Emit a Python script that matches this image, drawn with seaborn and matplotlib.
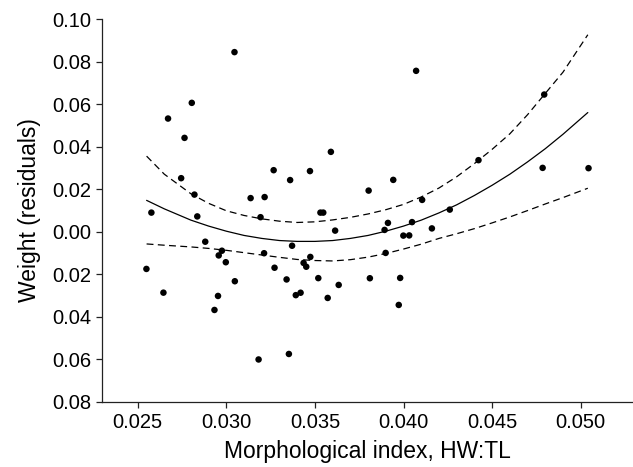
import matplotlib
matplotlib.use("Agg")
import matplotlib.pyplot as plt
import seaborn as sns
import pandas as pd

# morphological index (HW:TL) and weight residuals
hw_tl = [0.02549, 0.02577, 0.02645, 0.02671, 0.02745, 0.02764, 0.02805, 0.02820,
         0.02836, 0.02881, 0.02933, 0.02953, 0.02957, 0.02975, 0.02997, 0.03046,
         0.03048, 0.03137, 0.03182, 0.03193, 0.03213, 0.03216, 0.03267, 0.03272,
         0.03340, 0.03353, 0.03360, 0.03371, 0.03392, 0.03419, 0.03436, 0.03451,
         0.03472, 0.03474, 0.03519, 0.03531, 0.03547, 0.03590, 0.03614, 0.03634,
         0.03572, 0.03803, 0.03810, 0.03893, 0.03899, 0.03912, 0.03942, 0.03973,
         0.03981, 0.03999, 0.04032, 0.04048, 0.04071, 0.04105, 0.04160, 0.04261,
         0.04423, 0.04785, 0.04794, 0.05044]
weight_resid = [-0.01755, 0.00894, -0.02871, 0.05318, 0.02513, 0.04409, 0.06056, 0.01741,
                0.00715, -0.00475, -0.03685, -0.03026, -0.01120, -0.00899, -0.01440, 0.08442,
                -0.02334, 0.01576, -0.06014, 0.00678, -0.01016, 0.01624, 0.02889, -0.01699,
                -0.02250, -0.05755, 0.02424, -0.00664, -0.02988, -0.02875, -0.01473, -0.01652,
                0.02847, -0.01191, -0.02188, 0.00894, 0.00894, 0.03751, 0.00047, -0.02508,
                -0.03120, 0.01929, -0.02193, 0.00080, -0.01002, 0.00409, 0.02433, -0.03449,
                -0.02179, -0.00188, -0.00179, 0.00447, 0.07562, 0.01492, 0.00151, 0.01035,
                0.03360, 0.02998, 0.06447, 0.02984]

# fitted curve and its confidence limits, read at these x positions
fit_x = [0.0255, 0.0265, 0.0280, 0.0290, 0.0300, 0.0310, 0.0320, 0.0330, 0.0340,
         0.0350, 0.0360, 0.0370, 0.0380, 0.0390, 0.0400, 0.0410, 0.0420, 0.0430,
         0.0440, 0.0450, 0.0460, 0.0470, 0.0480, 0.0490, 0.0504]
fit_mid = [0.0147, 0.0107, 0.0054, 0.0026, 0.0002, -0.0018, -0.0032, -0.0042, -0.0046,
           -0.0046, -0.0042, -0.0032, -0.0018, 0.0002, 0.0026, 0.0054, 0.0088, 0.0126,
           0.0170, 0.0218, 0.0270, 0.0328, 0.0390, 0.0458, 0.0560]
fit_upper = [0.0355, 0.0270, 0.0178, 0.0133, 0.0098, 0.0076, 0.0060, 0.0049, 0.0043,
             0.0046, 0.0055, 0.0067, 0.0083, 0.0103, 0.0128, 0.0163, 0.0205, 0.0258,
             0.0320, 0.0387, 0.0460, 0.0550, 0.0650, 0.0750, 0.0926]
fit_lower = [-0.0058, -0.0064, -0.0072, -0.0079, -0.0088, -0.0099, -0.0110, -0.0121, -0.0131,
             -0.0136, -0.0138, -0.0132, -0.0120, -0.0103, -0.0082, -0.0059, -0.0032, -0.0010,
             0.0014, 0.0041, 0.0069, 0.0099, 0.0130, 0.0160, 0.0204]

x_ticks = [0.025, 0.030, 0.035, 0.040, 0.045, 0.050]
x_tick_labels = ["0.025", "0.030", "0.035", "0.040", "0.045", "0.050"]
y_ticks = [0.10, 0.08, 0.06, 0.04, 0.02, 0.00, -0.02, -0.04, -0.06, -0.08]
y_tick_labels = ["0.10", "0.08", "0.06", "0.04", "0.02", "0.00", "0.02", "0.04", "0.06", "0.08"]

sns.set_style("ticks")
plt.rcParams['font.family'] = ['Liberation Sans', 'DejaVu Sans']
plt.rcParams['text.color'] = 'black'
plt.rcParams['axes.labelcolor'] = 'black'
plt.rcParams['xtick.color'] = 'black'
plt.rcParams['ytick.color'] = 'black'

points_df = pd.DataFrame({'hw_tl': hw_tl, 'resid': weight_resid})

fig = plt.figure(figsize=(6.33, 4.67), dpi=100)
ax = fig.add_axes([102.3 / 633, 65.3 / 467, (633 - 102.3) / 633, (401.7 - 19) / 467])

dash = (0, (5.5, 3.5))
sns.lineplot(x=fit_x, y=fit_mid, color='black', linewidth=0.9, ax=ax)
sns.lineplot(x=fit_x, y=fit_upper, color='black', linewidth=0.9, linestyle=dash, ax=ax)
sns.lineplot(x=fit_x, y=fit_lower, color='black', linewidth=0.9, linestyle=dash, ax=ax)
sns.scatterplot(data=points_df, x='hw_tl', y='resid', color='black', s=22, edgecolor='none', ax=ax, zorder=3)

ax.set_xlim(0.023, 0.05295)
ax.set_ylim(-0.08, 0.10)
ax.set_xticks(x_ticks)
ax.set_xticklabels(x_tick_labels)
ax.set_yticks(y_ticks)
ax.set_yticklabels(y_tick_labels)
ax.tick_params(axis='both', labelsize=14.5, length=4, width=0.9, color='#222222', pad=4)

ax.set_xlabel('Morphological index, HW:TL', fontsize=16.5, labelpad=6)
ax.set_ylabel('Weight (residuals)', fontsize=16.5, labelpad=8)

sns.despine(ax=ax)
for side in ['left', 'bottom']:
    ax.spines[side].set_linewidth(0.9)
    ax.spines[side].set_color('#222222')

fig.savefig('out.png', dpi=100)
plt.close()
